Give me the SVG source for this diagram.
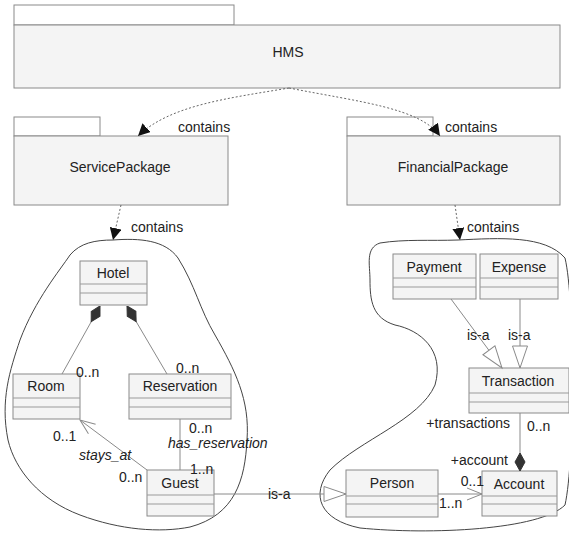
<svg xmlns="http://www.w3.org/2000/svg" width="569" height="535" viewBox="0 0 569 535">
<style>
text{font-family:"Liberation Sans",Arial,sans-serif;font-size:14px;fill:#222}
.c{text-anchor:middle}
.e{text-anchor:end}
.i{font-style:italic}
.box{fill:#f4f4f4;stroke:#8a8a8a;stroke-width:1}
.sep{stroke:#9a9a9a;stroke-width:1;fill:none}
.ln{stroke:#8a8a8a;stroke-width:1;fill:none}
.dash{stroke:#666;stroke-width:1;fill:none;stroke-dasharray:2,2}
.cloud{fill:none;stroke:#444;stroke-width:1}
</style>
<defs>
<marker id="arr" markerUnits="userSpaceOnUse" markerWidth="13" markerHeight="12" refX="12" refY="6" orient="auto" viewBox="0 0 13 12"><path d="M0,0 L12,6 L0,12 z" fill="#111"/></marker>
<marker id="open" markerUnits="userSpaceOnUse" markerWidth="18" markerHeight="14" refX="16" refY="7" orient="auto" viewBox="0 0 18 14"><path d="M1,1 L16,7 L1,13" fill="none" stroke="#8a8a8a" stroke-width="1"/></marker>
<marker id="tri" markerUnits="userSpaceOnUse" markerWidth="26" markerHeight="20" refX="23" refY="9" orient="auto" viewBox="0 0 26 20"><path d="M1,1.5 L23,9 L1,16.5 z" fill="#fff" stroke="#8a8a8a" stroke-width="1"/></marker>
<marker id="dia" markerUnits="userSpaceOnUse" markerWidth="20" markerHeight="12" refX="0" refY="6" orient="auto" viewBox="0 0 20 12"><path d="M0,6 L9,1 L18,6 L9,11 z" fill="#333" stroke="#333" stroke-width="1"/></marker>
</defs>

<g id="HMS">
<rect class="box" x="14" y="5" width="220" height="20" style="fill:#fff"/>
<rect class="box" x="14" y="25" width="546" height="63"/>
<text class="c" x="288" y="57">HMS</text>
</g>

<g id="ServicePackage">
<rect class="box" x="14" y="117" width="86" height="19" style="fill:#fff"/>
<rect class="box" x="14" y="136" width="214" height="69"/>
<text class="c" x="120" y="172">ServicePackage</text>
</g>

<g id="FinancialPackage">
<rect class="box" x="347" y="117" width="86" height="19" style="fill:#fff"/>
<rect class="box" x="347" y="136" width="213" height="69"/>
<text class="c" x="453" y="172">FinancialPackage</text>
</g>

<g id="ServiceCloud">
<path class="cloud" d="M113,240 C140,238 165,240 178,258 C195,285 200,310 215,335 C235,370 250,400 247,440 C245,480 235,515 190,527 C160,533 120,530 80,515 C40,500 15,470 8,440 C0,400 10,370 20,340 C35,300 60,270 70,255 C80,243 95,240 113,240 Z"/>
</g>

<g id="FinancialCloud">
<path class="cloud" d="M458,240 C500,238 545,235 565,258 C575,300 575,460 565,505 C540,530 430,535 360,528 C320,520 310,495 330,470 C360,440 420,420 435,385 C445,350 420,330 395,325 C372,318 370,300 370,280 C370,265 365,248 380,243 C405,239 430,241 458,240 Z"/>
</g>

<g id="Hotel">
<rect class="box" x="80" y="261" width="67" height="44"/>
<path class="sep" d="M80,284 H147 M80,293 H147"/>
<text class="c" x="113" y="278">Hotel</text>
</g>

<g id="Room">
<rect class="box" x="13" y="374" width="67" height="45"/>
<path class="sep" d="M13,398 H80 M13,407 H80"/>
<text class="c" x="46" y="391">Room</text>
</g>

<g id="Reservation">
<rect class="box" x="129" y="374" width="102" height="45"/>
<path class="sep" d="M129,398 H231 M129,407 H231"/>
<text class="c" x="180" y="391">Reservation</text>
</g>

<g id="Guest">
<rect class="box" x="147" y="470" width="67" height="46"/>
<path class="sep" d="M147,495 H214 M147,504 H214"/>
<text class="c" x="180" y="488">Guest</text>
</g>

<g id="Payment">
<rect class="box" x="393" y="254" width="83" height="45"/>
<path class="sep" d="M393,278 H476 M393,287 H476"/>
<text class="c" x="434" y="272">Payment</text>
</g>

<g id="Expense">
<rect class="box" x="480" y="254" width="78" height="45"/>
<path class="sep" d="M480,278 H558 M480,287 H558"/>
<text class="c" x="519" y="272">Expense</text>
</g>

<g id="Transaction">
<rect class="box" x="469" y="368" width="100" height="45"/>
<path class="sep" d="M469,393 H569 M469,402 H569"/>
<text class="c" x="518" y="386">Transaction</text>
</g>

<g id="Person">
<rect class="box" x="346" y="470" width="92" height="47"/>
<path class="sep" d="M346,496 H438 M346,504 H438"/>
<text class="c" x="392" y="488">Person</text>
</g>

<g id="Account">
<rect class="box" x="482" y="471" width="75" height="45"/>
<path class="sep" d="M482,496 H557 M482,504 H557"/>
<text class="c" x="519" y="489">Account</text>
</g>

<g id="connectors">
<path class="dash" d="M289,88 C230,98 170,105 138,136" marker-end="url(#arr)"/>
<text x="178" y="132">contains</text>
<path class="dash" d="M289,88 C360,102 420,108 440,136" marker-end="url(#arr)"/>
<text x="445" y="132">contains</text>
<path class="dash" d="M121,205 L113,240" marker-end="url(#arr)"/>
<text x="131" y="232">contains</text>
<path class="dash" d="M455,205 L460,240" marker-end="url(#arr)"/>
<text x="467" y="232">contains</text>

<path class="ln" d="M100,306 L62,374" marker-start="url(#dia)"/>
<text x="76" y="377">0..n</text>
<path class="ln" d="M127,306 L167,374" marker-start="url(#dia)"/>
<text x="176" y="373">0..n</text>

<path class="ln" d="M147,470 L80,420" marker-end="url(#open)"/>
<text x="53" y="441">0..1</text>
<text class="i" x="79" y="460">stays_at</text>
<text x="119" y="482">0..n</text>

<path class="ln" d="M180,419 V470"/>
<text x="189" y="433">0..n</text>
<text class="i" x="168" y="448">has_reservation</text>
<text x="190" y="474">1..n</text>

<path class="ln" d="M214,494 H346" marker-end="url(#tri)"/>
<text x="268" y="499">is-a</text>

<path class="ln" d="M451,299 L502,368" marker-end="url(#tri)"/>
<text x="467" y="340">is-a</text>
<path class="ln" d="M520,299 V368" marker-end="url(#tri)"/>
<text x="508" y="340">is-a</text>

<path class="ln" d="M520,471 V413" marker-start="url(#dia)"/>
<text class="e" x="510" y="428">+transactions</text>
<text x="527" y="431">0..n</text>
<text class="e" x="508" y="465">+account</text>

<path class="ln" d="M438,494 H482" marker-end="url(#open)"/>
<text class="e" x="484" y="486">0..1</text>
<text x="439" y="508">1..n</text>
</g>
</svg>
